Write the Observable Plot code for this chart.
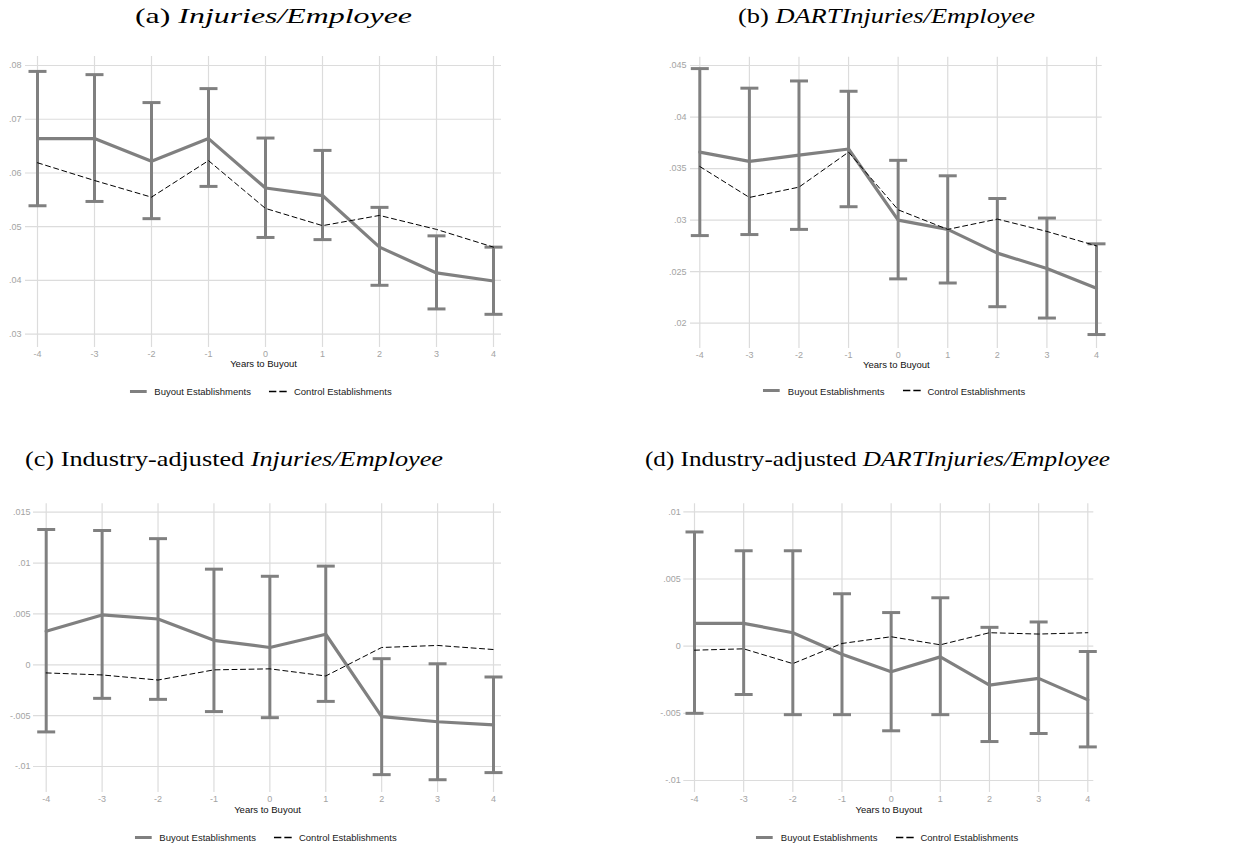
<!DOCTYPE html>
<html>
<head>
<meta charset="utf-8">
<script src="https://cdn.jsdelivr.net/npm/d3@7"></script>
<script src="https://cdn.jsdelivr.net/npm/@observablehq/plot@0.6"></script>
<style>
  html, body { margin: 0; padding: 0; background: #fff; }
  #page { position: relative; width: 1237px; height: 847px; overflow: hidden; background: #fff; }
  .panel { position: absolute; }
  .legend { position: absolute; display: flex; align-items: center; transform: translate(-50%, -50%);
            font-family: "Liberation Sans", Arial, sans-serif; font-size: 9.5px; color: #1a1a1a; white-space: nowrap; }
  .legend svg { display: block; }
  #titles { position: absolute; left: 0; top: 0; pointer-events: none; }
</style>
</head>
<body>
<div id="page"></div>
<script>
// ---------- data ----------
const years = [-4, -3, -2, -1, 0, 1, 2, 3, 4];
const seriesNames = ["Buyout Establishments", "Control Establishments"];
const xLabel = "Years to Buyout";

// (a) Injuries/Employee
const aBuyout  = [.0664, .0664, .0622, .0664, .0572, .0558, .0462, .0414, .0399];
const aUpper   = [.0789, .0783, .0731, .0757, .0665, .0642, .0536, .0483, .0462];
const aLower   = [.0539, .0547, .0515, .0575, .0480, .0476, .0391, .0347, .0337];
const aControl = [.0619, .0586, .0555, .0623, .0534, .0502, .0521, .0495, .0462];
const aTicks   = [.03, .04, .05, .06, .07, .08];

// (b) DARTInjuries/Employee
const bBuyout  = [.0366, .0357, .0363, .0369, .0300, .0291, .0268, .0253, .0234];
const bUpper   = [.0447, .0428, .0435, .0425, .0358, .0343, .0321, .0302, .0277];
const bLower   = [.0285, .0286, .0291, .0313, .0243, .0239, .0216, .0205, .0189];
const bControl = [.0352, .0322, .0332, .0366, .0310, .0291, .0301, .0289, .0275];
const bTicks   = [.02, .025, .03, .035, .04, .045];

// (c) Industry-adjusted Injuries/Employee
const cBuyout  = [.0033, .0049, .0045, .0024, .0017, .0030, -.0051, -.0056, -.0059];
const cUpper   = [.0133, .0132, .0124, .0094, .0087, .0097, .0006, .0001, -.0012];
const cLower   = [-.0066, -.0033, -.0034, -.0046, -.0052, -.0036, -.0108, -.0113, -.0106];
const cControl = [-.0008, -.0010, -.0015, -.0005, -.0004, -.0011, .0017, .0019, .0015];
const cTicks   = [-.01, -.005, 0, .005, .01, .015];

// (d) Industry-adjusted DARTInjuries/Employee
const dBuyout  = [.0017, .0017, .0010, -.0006, -.0019, -.0008, -.0029, -.0024, -.0040];
const dUpper   = [.0085, .0071, .0071, .0039, .0025, .0036, .0014, .0018, -.0004];
const dLower   = [-.0050, -.0036, -.0051, -.0051, -.0063, -.0051, -.0071, -.0065, -.0075];
const dControl = [-.0003, -.0002, -.0013, .0002, .0007, .0001, .0010, .0009, .0010];
const dTicks   = [-.01, -.005, 0, .005, .01];

// titles: [prefix (roman), italic part]
const aTitle = ["(a) ", "Injuries/Employee"];
const bTitle = ["(b) ", "DARTInjuries/Employee"];
const cTitle = ["(c) Industry-adjusted ", "Injuries/Employee"];
const dTitle = ["(d) Industry-adjusted ", "DARTInjuries/Employee"];

// ---------- styling ----------
const GRAY = "#808080";
const GRID = "#dcdcdc";
const TICKTXT = "#a3a3a3";

const fmt = d => d === 0 ? "0" : String(+d.toFixed(4)).replace("0.", ".");

// horizontal cap symbol for the error bars
const capSymbol = {
  draw(context, size) {
    const r = Math.sqrt(size / Math.PI);
    context.moveTo(-r, 0);
    context.lineTo(r, 0);
  }
};

const page = document.getElementById("page");

function makePanel(cfg) {
  const rows = years.map((x, i) => ({x, buy: cfg.buy[i], hi: cfg.hi[i], lo: cfg.lo[i], ctl: cfg.ctl[i]}));
  const chart = Plot.plot({
    width: cfg.width,
    height: cfg.height,
    marginLeft: cfg.mL, marginRight: cfg.mR, marginTop: cfg.mT, marginBottom: cfg.mB,
    style: {fontFamily: "Liberation Sans, Arial, sans-serif", fontSize: "9px", background: "transparent", overflow: "visible"},
    x: {domain: [-4, 4], range: cfg.xRange},
    y: {domain: [cfg.ticks[0], cfg.ticks[cfg.ticks.length - 1]], range: cfg.yRange},
    marks: [
      Plot.ruleY(cfg.ticks, {stroke: GRID, strokeWidth: 1.2}),
      Plot.ruleX(years, {stroke: GRID, strokeWidth: 1.2}),
      Plot.axisY({ticks: cfg.ticks, tickSize: 0, tickPadding: cfg.yPad, tickFormat: fmt, color: TICKTXT, fontSize: 9, label: null}),
      Plot.axisX({ticks: years, tickSize: 0, tickPadding: 3, tickFormat: d => String(d), color: TICKTXT, fontSize: 9, label: null}),
      Plot.ruleX(rows, {x: "x", y1: "lo", y2: "hi", stroke: GRAY, strokeWidth: 3}),
      Plot.dot(rows, {x: "x", y: "lo", symbol: capSymbol, r: 9, stroke: GRAY, strokeWidth: 3, fill: "none"}),
      Plot.dot(rows, {x: "x", y: "hi", symbol: capSymbol, r: 9, stroke: GRAY, strokeWidth: 3, fill: "none"}),
      Plot.line(rows, {x: "x", y: "buy", stroke: GRAY, strokeWidth: 3.2}),
      Plot.line(rows, {x: "x", y: "ctl", stroke: "#000", strokeWidth: 1, strokeDasharray: "5,3.5"}),
      Plot.text([xLabel], {frameAnchor: "bottom", dy: cfg.labelDy, fontSize: 9.5, fill: "#111"})
    ]
  });
  chart.classList.add("panel");
  chart.style.left = cfg.left + "px";
  chart.style.top = cfg.top + "px";
  page.appendChild(chart);

  // legend
  const lg = document.createElement("div");
  lg.className = "legend";
  lg.style.left = cfg.legendX + "px";
  lg.style.top = cfg.legendY + "px";
  lg.innerHTML =
    `<svg width="17" height="6"><line x1="0" y1="3" x2="17" y2="3" stroke="${GRAY}" stroke-width="3"/></svg>` +
    `<span style="margin-left:8px">${seriesNames[0]}</span>` +
    `<svg width="18" height="6" style="margin-left:18px"><line x1="0" y1="3" x2="18" y2="3" stroke="#000" stroke-width="1.3" stroke-dasharray="7.5,3"/></svg>` +
    `<span style="margin-left:7px">${seriesNames[1]}</span>`;
  page.appendChild(lg);
}

makePanel({buy: aBuyout, hi: aUpper, lo: aLower, ctl: aControl, ticks: aTicks,
  left: 0, top: 0, width: 600, height: 420, mL: 25, mR: 99, mT: 56, mB: 73,
  xRange: [37, 493], yRange: [333.7, 65], yPad: 4, labelDy: 19, legendX: 260.5, legendY: 391});

makePanel({buy: bBuyout, hi: bUpper, lo: bLower, ctl: bControl, ticks: bTicks,
  left: 600, top: 0, width: 637, height: 420, mL: 90, mR: 135.3, mT: 56.7, mB: 72,
  xRange: [99.3, 496], yRange: [322.7, 65], yPad: 4, labelDy: 19, legendX: 894, legendY: 390.5});

makePanel({buy: cBuyout, hi: cUpper, lo: cLower, ctl: cControl, ticks: cTicks,
  left: 0, top: 420, width: 600, height: 427, mL: 33, mR: 99, mT: 83.3, mB: 55,
  xRange: [45.7, 493], yRange: [346, 91.7], yPad: 3, labelDy: 20.5, legendX: 265.5, legendY: 837});

makePanel({buy: dBuyout, hi: dUpper, lo: dLower, ctl: dControl, ticks: dTicks,
  left: 600, top: 420, width: 637, height: 427, mL: 83.3, mR: 143.7, mT: 83.3, mB: 55,
  xRange: [94, 487.3], yRange: [360, 91.3], yPad: 3, labelDy: 20.5, legendX: 887, legendY: 837});

// titles
const ns = "http://www.w3.org/2000/svg";
const tsvg = document.createElementNS(ns, "svg");
tsvg.setAttribute("id", "titles");
tsvg.setAttribute("width", 1237);
tsvg.setAttribute("height", 847);
function addTitle(parts, x, y, len) {
  const t = document.createElementNS(ns, "text");
  t.setAttribute("x", x);
  t.setAttribute("y", y);
  t.setAttribute("textLength", len);
  t.setAttribute("lengthAdjust", "spacingAndGlyphs");
  t.setAttribute("font-family", "Liberation Serif, Times New Roman, serif");
  t.setAttribute("font-size", "21");
  t.setAttribute("fill", "#000");
  const s1 = document.createElementNS(ns, "tspan");
  s1.textContent = parts[0];
  const s2 = document.createElementNS(ns, "tspan");
  s2.setAttribute("font-style", "italic");
  s2.textContent = parts[1];
  t.appendChild(s1); t.appendChild(s2);
  tsvg.appendChild(t);
}
addTitle(aTitle, 135, 23, 277);
addTitle(bTitle, 738, 23, 297);
addTitle(cTitle, 25, 466, 418);
addTitle(dTitle, 645, 466, 465);
page.appendChild(tsvg);
</script>
</body>
</html>
